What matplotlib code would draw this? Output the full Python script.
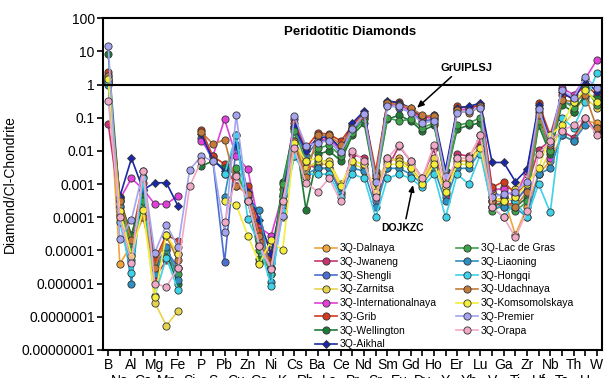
import numpy as np
import matplotlib
matplotlib.use("Agg")
import matplotlib.pyplot as plt
from matplotlib.ticker import FixedLocator, FixedFormatter

plt.rcParams["font.family"] = ["Liberation Sans", "DejaVu Sans"]

nan = np.nan

ELEMENTS = ["B", "Na", "Al", "Ca", "Mg", "Mn", "Fe", "Si",
            "P", "S", "Pb", "Cu", "Zn", "Co", "Ni", "K", "Cs", "Rb",
            "Ba", "La", "Ce", "Pr", "Nd", "Sr", "Sm", "Eu", "Gd", "Dy", "Ho", "Y", "Er", "Yb", "Lu",
            "V", "Ga", "Ti", "Zr", "Hf", "Nb", "Ta", "Th", "U", "W"]

# rows per sample: B..Si / P..Rb / Ba..Lu / V..W  (nan = not analysed)
dalnaya = [2.0, 4e-6, 1.5e-5, 1e-4, 3e-6, 2.7e-5, 8e-6, nan,
           nan, nan, nan, nan, 3e-4, 3e-5, 1.2e-5, 1e-4, 0.012, 0.003,
           0.004, 0.004, 0.0008, 0.005, 0.004, 0.0005, 0.005, 0.006, 0.003, 0.0012, 0.005, 0.0005, 0.005, 0.005, 0.015,
           0.0003, 0.0004, 3e-5, 0.0002, 0.002, 0.005, 0.03, 0.02, 0.08, 0.07]
jwaneng = [0.066, 2e-4, 5e-6, 5e-4, 1.5e-6, 5e-6, 3e-6, nan,
           nan, nan, nan, nan, nan, nan, 5e-6, 2e-4, 0.02, 0.004,
           0.003, 0.003, 0.0006, 0.008, 0.006, 0.0003, 0.003, 0.014, 0.005, 0.0015, 0.012, 0.0004, 0.008, 0.007, 0.02,
           0.0003, 0.0002, 0.0003, 0.0008, 0.011, 0.02, 0.04, 0.025, 0.1, 0.04]
shengli = [1.3, 4e-4, 1.3e-5, 6.8e-4, 4e-6, 1e-5, 3e-6, nan,
           0.025, 0.005, 4.4e-6, 0.014, 5e-4, 2e-5, 2e-6, 4.3e-4, 0.05, 0.007,
           0.02, 0.022, 0.008, 0.04, 0.1, 0.001, 0.25, 0.2, 0.15, 0.08, 0.09, 0.002, 0.15, 0.16, 0.2,
           0.0006, 0.0004, 0.0003, 0.0008, 0.15, 0.012, 0.3, 0.25, 0.6, 0.35]
zarnitsa = [1.6, 1.2e-4, 7.5e-6, 3.4e-4, 2.7e-7, 5.4e-8, 1.5e-7, nan,
            nan, nan, nan, nan, nan, 4.3e-6, 1.7e-5, 2.1e-4, 0.017, 0.003,
            0.005, 0.005, 0.001, 0.004, 0.003, 0.0008, 0.006, 0.005, 0.004, 0.0015, 0.006, 0.0008, 0.006, 0.006, 0.03,
            0.0006, 0.0008, 0.0007, 0.002, 0.002, 0.01, 0.05, 0.15, 0.4, 0.2]
internationalnaya = [1.2, 3.5e-4, 1.5e-3, 7e-4, 2.5e-4, 2.5e-4, 4.5e-4, nan,
                     0.02, 0.007, 0.09, 0.007, 0.0028, 5e-5, 2.8e-5, 5e-4, 0.09, 0.013,
                     0.02, 0.025, 0.01, 0.05, 0.12, 0.002, 0.25, 0.25, 0.16, 0.1, 0.1, 0.002, 0.18, 0.18, 0.25,
                     0.0007, 0.0007, 0.0004, 0.0025, 0.2, 0.006, 0.8, 0.5, 1.5, 5.5]
grib = [2.4, 4e-4, 2.5e-5, 1.1e-3, 5e-6, 3e-5, 1.9e-5, nan,
        0.043, 0.007, 0.004, 0.00085, 0.0009, 3.8e-5, 4.3e-6, 7e-4, 0.07, 0.012,
        0.035, 0.032, 0.02, 0.06, 0.14, 0.0025, 0.3, 0.3, 0.18, 0.1, 0.12, 0.001, 0.22, 0.2, 0.25,
        0.0008, 0.0012, 0.0005, 0.001, 0.27, 0.03, 0.5, 0.4, 1.0, 0.5]
wellington = [8.5, 3e-4, 3e-5, 5e-4, 3e-6, 8e-6, 1e-6, nan,
              0.0035, 0.005, 0.003, 0.002, 0.0004, 5.4e-6, 3e-6, 1.2e-3, 0.05, 1.7e-4,
              0.008, 0.01, 0.005, 0.03, 0.07, 0.001, 0.09, 0.12, 0.08, 0.04, 0.06, 0.0015, 0.045, 0.06, 0.07,
              0.0002, 0.0003, 0.0002, 0.0004, 0.06, 0.008, 0.25, 0.15, 0.5, 0.4]
aikhal = [1.1, 4.2e-4, 6e-3, 6.8e-4, 1.1e-3, 1.1e-3, 2.2e-4, nan,
          0.032, 0.0055, 0.0025, 0.016, 6e-4, 8.5e-5, 8e-6, 4.3e-4, 0.055, 0.01,
          0.025, 0.027, 0.012, 0.07, 0.16, 0.0015, 0.33, 0.28, 0.2, 0.11, 0.12, 0.0027, 0.2, 0.22, 0.28,
          0.0045, 0.0045, 0.0012, 0.0028, 0.25, 0.02, 0.6, 0.35, 1.4, 0.6]
lac_de_gras = [1.4, 3e-4, 1e-5, 3e-4, 2e-6, 1e-5, 2e-6, nan,
               nan, nan, 0.002, 0.003, 0.0003, 1e-5, 2e-6, 1e-3, 0.04, 0.005,
               0.012, 0.015, 0.007, 0.035, 0.09, 0.0012, 0.1, 0.08, 0.09, 0.05, 0.07, 0.0012, 0.06, 0.07, 0.1,
               0.00015, 0.00025, 0.00015, 0.0003, 0.08, 0.01, 0.35, 0.2, 0.8, 0.25]
liaoning = [1.0, 2.2e-4, 1e-6, 1.6e-3, 2e-6, 1.3e-5, 1.3e-6, nan,
            nan, nan, 0.00042, 0.03, 3e-4, 1.7e-4, 1.1e-6, 2e-4, 0.007, 0.002,
            0.003, 0.003, 0.0005, 0.003, 0.0025, 0.0002, 0.003, 0.003, 0.002, 0.001, 0.003, 0.0003, 0.003, 0.003, 0.01,
            0.0002, 0.0002, 0.0002, 0.0001, 0.002, 0.003, 0.03, 0.02, 0.06, 0.05]
hongqi = [1.2, 7e-5, 2.1e-6, 1.5e-3, 4.3e-7, 6e-6, 6.5e-7, nan,
          nan, nan, 0.002, 0.03, 8.7e-5, 1.5e-5, 8.5e-7, 1.5e-4, 0.007, 0.002,
          0.002, 0.002, 0.0004, 0.002, 0.0015, 0.0001, 0.0015, 0.002, 0.0015, 0.0008, 0.002, 0.0001, 0.002, 0.001, 0.008,
          0.0002, 0.0001, 0.0003, 0.0001, 0.001, 0.00014, 0.1, 0.05, 0.3, 2.2]
udachnaya = [1.8, 3e-4, 2e-5, 1e-4, 3e-6, 2.7e-5, 5e-6, nan,
             0.038, 0.016, 0.022, 0.0009, 0.0005, 2.7e-5, 3e-6, 3e-4, 0.02, 0.0016,
             0.03, 0.03, 0.015, 0.05, 0.11, 0.0018, 0.28, 0.25, 0.2, 0.12, 0.11, 0.0015, 0.17, 0.14, 0.22,
             0.0003, 0.0003, 0.0002, 0.0006, 0.12, 0.015, 0.35, 0.3, 0.5, 0.05]
komsomolskaya = [1.5, 1.5e-4, 7e-6, 1.7e-4, 4e-7, 3e-5, 8e-6, nan,
                 nan, nan, 0.0003, 2.4e-4, 2.8e-5, 4e-6, 2e-5, 1e-5, 0.017, 0.005,
                 0.006, 0.004, 0.0009, 0.005, 0.004, 0.0006, 0.004, 0.004, 0.003, 0.001, 0.004, 0.0006, 0.004, 0.004, 0.012,
                 0.0004, 0.0003, 0.0004, 0.001, 0.003, 0.03, 0.06, 0.3, 0.7, 0.3]
premier = [15, 2.2e-5, 8.5e-5, 2.5e-3, 8.5e-6, 6e-5, 1.3e-5, 2.7e-3,
           0.007, 0.005, 3.5e-5, 0.12, 3e-4, 1.4e-5, 3e-6, 1.1e-4, 0.11, 0.014,
           0.018, 0.02, 0.009, 0.045, 0.13, 0.0012, 0.22, 0.22, 0.14, 0.07, 0.08, 0.0018, 0.14, 0.16, 0.2,
           0.0004, 0.0005, 0.0006, 0.0012, 0.18, 0.018, 0.7, 0.4, 1.7, 0.8]
orapa = [0.33, 1e-4, 4.3e-6, 2.5e-3, 1e-6, 8e-7, 3e-6, 8.5e-4,
         0.005, nan, 7e-5, 0.0017, 0.00032, 1.4e-5, 2.7e-6, 3e-4, 0.012, 0.0011,
         0.0006, 0.0015, 0.0003, 0.01, 0.005, 0.0004, 0.006, 0.015, 0.005, 0.0015, 0.015, 0.001, 0.006, 0.006, 0.03,
         0.0002, 0.0001, 2.5e-5, 0.00015, 0.008, 0.02, 0.04, 0.06, 0.1, 0.03]

# legend order: first column, then second column
SERIES = [
    ("3Q-Dalnaya", dalnaya, "#f0a63a", "o"),
    ("3Q-Jwaneng", jwaneng, "#c8346f", "o"),
    ("3Q-Shengli", shengli, "#4a6ed2", "o"),
    ("3Q-Zarnitsa", zarnitsa, "#e8d44c", "o"),
    ("3Q-Internationalnaya", internationalnaya, "#e040d8", "o"),
    ("3Q-Grib", grib, "#d33a1e", "o"),
    ("3Q-Wellington", wellington, "#1f7a38", "o"),
    ("3Q-Aikhal", aikhal, "#1a28a8", "D"),
    ("3Q-Lac de Gras", lac_de_gras, "#3ea24a", "o"),
    ("3Q-Liaoning", liaoning, "#2e8fc2", "o"),
    ("3Q-Hongqi", hongqi, "#3cd2ea", "o"),
    ("3Q-Udachnaya", udachnaya, "#c47a3a", "o"),
    ("3Q-Komsomolskaya", komsomolskaya, "#f4ee3a", "o"),
    ("3Q-Premier", premier, "#a4a4f0", "o"),
    ("3Q-Orapa", orapa, "#f0aac8", "o"),
]

YTICKS = [10.0 ** k for k in range(2, -9, -1)]
YTICK_LABELS = ["100", "10", "1", "0.1", "0.01", "0.001", "0.0001", "0.00001",
                "0.000001", "0.0000001", "0.00000001"]


def main() -> None:
    fig = plt.figure(figsize=(6.04, 3.78), dpi=100)
    ax = fig.add_axes([0.1705, 0.0741, 0.8262, 0.8775])

    x = np.arange(len(ELEMENTS))
    for name, vals, color, marker in SERIES:
        ms = 4.4 if marker == "D" else 5.2
        ax.plot(x, vals, color=color, lw=1.2, marker=marker, ms=ms,
                mfc=color, mec="#353535", mew=0.6, label=name)

    ax.axhline(1.0, color="black", lw=1.5, zorder=5)

    ax.set_yscale("log")
    ax.set_ylim(1e-8, 100)
    ax.set_xlim(-0.45, len(ELEMENTS) - 0.55)
    ax.yaxis.set_major_locator(FixedLocator(YTICKS))
    ax.yaxis.set_major_formatter(FixedFormatter(YTICK_LABELS))
    ax.yaxis.set_minor_locator(FixedLocator([]))

    # element labels alternate on two rows (the lower row runs off the bottom, as in the source)
    ax.set_xticks(x[::2])
    ax.set_xticklabels(ELEMENTS[::2])
    ax.set_xticks(x[1::2], minor=True)
    ax.set_xticklabels(ELEMENTS[1::2], minor=True)
    ax.tick_params(axis="x", which="both", direction="out", length=4, width=1.2, labelsize=10)
    ax.tick_params(axis="x", which="major", pad=1.5)
    ax.tick_params(axis="x", which="minor", pad=13.5)
    ax.tick_params(axis="y", direction="out", length=4, width=1.2, labelsize=10, pad=2)

    for sp in ax.spines.values():
        sp.set_linewidth(1.5)

    ax.set_ylabel("Diamond/Cl-Chondrite", fontsize=10)
    ax.yaxis.set_label_coords(-0.172, 0.5)

    ax.text(0.495, 0.959, "Peridotitic Diamonds", transform=ax.transAxes,
            ha="center", va="center", fontsize=9.5, fontweight="bold")

    arrow = dict(arrowstyle="-|>,head_length=0.5,head_width=0.22", color="black", lw=1.1)
    ax.annotate("GrUIPLSJ", xy=(26.55, 0.2), xytext=(30.76, 3.2),
                ha="center", va="center", fontsize=8, fontweight="bold",
                arrowprops=dict(arrow, relpos=(0.3, 0.0), shrinkA=1, shrinkB=0))
    ax.annotate("DOJKZC", xy=(26.2, 9.4e-4), xytext=(25.34, 4.8e-5),
                ha="center", va="center", fontsize=7.5, fontweight="bold",
                arrowprops=dict(arrow, relpos=(0.55, 1.0), shrinkA=1, shrinkB=0))

    ax.legend(loc="upper left", bbox_to_anchor=(0.425, 0.322), ncol=2, frameon=False,
              fontsize=7.5, handlelength=2.1, handletextpad=0.25, columnspacing=1.9,
              labelspacing=0.36, borderpad=0, borderaxespad=0)

    fig.savefig("out.png", dpi=100)
    plt.close(fig)


if __name__ == "__main__":
    main()
